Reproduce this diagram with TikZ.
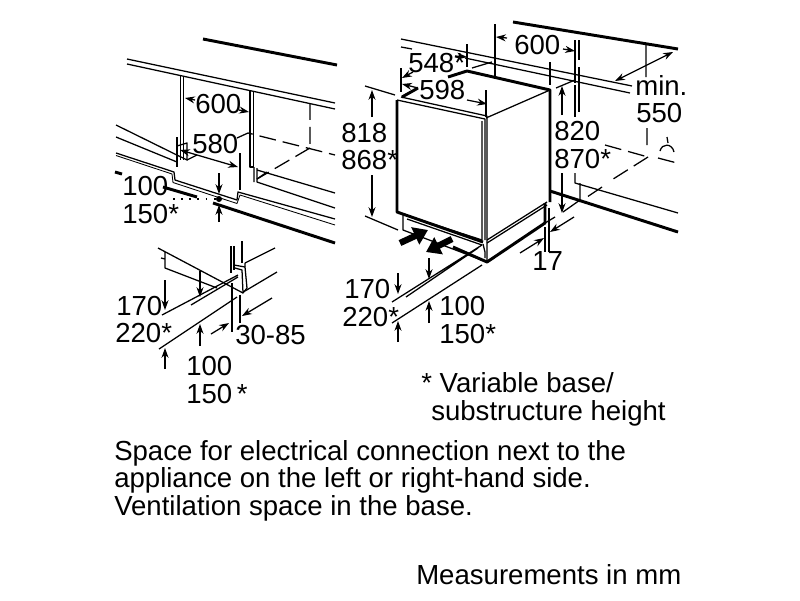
\documentclass[tikz,border=0pt]{standalone}
\usepackage{fontspec}
\setmainfont{Liberation Sans}
\usetikzlibrary{arrows.meta}

\begin{document}
\begin{tikzpicture}[x=0.025cm,y=-0.025cm,
	line join=round,
	thin line/.style={line width=0.9pt},
	fine line/.style={line width=0.6pt},
	thick line/.style={line width=2.1pt},
	dash line/.style={line width=0.9pt,dash pattern=on 12pt off 5pt},
	dim arrow/.style={line width=0.9pt,-{Stealth[length=7pt,width=5pt]}},
	both arrow/.style={line width=0.9pt,{Stealth[length=7pt,width=5pt]}-{Stealth[length=7pt,width=5pt]}},
	air arrow/.style={line width=4.5pt,-{Triangle[length=10pt,width=13pt]}},
	dim text/.style={anchor=base west,inner sep=0pt,font=\fontsize{19.6}{23}\selectfont}]
	
	\useasboundingbox (0,0) rectangle (800,600);
	
	% left niche
	\draw[thick line] (203,39) -- (337,65);
	\draw[thin line] (127,59) -- (335,103) (127,64) -- (335,109);
	\draw[thin line] (180.5,76) -- (180.5,160) (183.5,77) -- (183.5,160);
	\draw[thin line] (250,90) -- (250,167) -- (253.5,167) -- (253.5,91);
	\draw[thin line] (116,125) -- (187,160) -- (187,143) -- (177,146) (116,137) -- (177,162);
	\draw[thin line] (254,167) -- (254,182) (257,168) -- (257,182) -- (335,208) (257,170) -- (335,193);
	\draw[thin line] (257,179) -- (267,172) (187,160) -- (197,155);
	\draw[thin line] (116,153) -- (174,172) -- (175,180) -- (237,200) -- (238,192) -- (335,219);
	\draw[fine line] (116,155.5) -- (172,174) -- (173,182.5) -- (237,203.5) -- (240,195) -- (335,225);
	\draw[dash line] (310,103) -- (310,148) (237,138) -- (248,133) -- (335,155) (310,148) -- (257,179);
	\draw[thick line] (115,172) -- (122,174) (163,187) -- (197,197) (213,203) -- (335,243);
	\draw[thin line] (177,137) -- (177,167) (240,153) -- (240,190);
	\draw[dim arrow] (195,100) -- (185,98);
	\draw[dim arrow] (239,110) -- (249,112);
	\draw[both arrow] (180,150) -- (238,167);
	\draw[dim arrow] (219,173) -- (219,194);
	\draw[dim arrow] (219,222) -- (219,205);
	\draw[line width=1.2pt,dash pattern=on 1.3pt off 4.5pt] (173,199) -- (217,199);
	\fill (219,199) circle (3);
	\node[dim text] (width a) at (195,113) {600};
	\node[dim text] (depth a) at (192,153) {580};
	\node[dim text] (base a) at (122,195) {100};
	\node[dim text] (base b) at (122,223) {150*};
	
	% detail below
	\draw[thin line] (158,248) -- (243,293) (165,252) -- (165,268) -- (217,288) (161,258) -- (165,259);
	\draw[thin line] (231,246) -- (231,273) (234,246) -- (234,270) (242,241) -- (242,263);
	\draw[thin line] (245,263) -- (275,248) (245,291) -- (277,272);
	\draw[thin line] (234,265) -- (245,267) -- (247,288) -- (243,293) -- (242,270) -- (235,268);
	\draw[thin line] (245,263) -- (245,267) (162,315) -- (238,275) (191,305) -- (238,277) (159,349) -- (237,297);
	\draw[thin line] (232,283) -- (232,332) (240,295) -- (240,323);
	\draw[dim arrow] (165,280) -- (165,310);
	\draw[dim arrow] (200,271) -- (200,297);
	\draw[dim arrow] (200,346) -- (200,324);
	\draw[dim arrow] (165,369) -- (165,348);
	\draw[dim arrow] (211,334) -- (229,323);
	\draw[dim arrow] (272,298) -- (242,316);
	\node[dim text] (plinth a) at (116,315) {170};
	\node[dim text] (plinth b) at (115,342) {220*};
	\node[dim text] (range) at (235,344) {30-85};
	\node[dim text] (vent a) at (186,375) {100};
	\node[dim text] (vent b) at (186,403) {150\,*};
	
	% appliance
	\draw[thick line] (513,22) -- (678,49);
	\draw[thin line] (401,39) -- (632,86) (401,47) -- (412,49) (465,58) -- (630,93);
	\draw[thick line] (448,77) -- (467,71) -- (550,90) -- (550,202) (402,97) -- (418,88);
	\draw[thin line] (472,68) -- (492,62) (486,118) -- (550,90);
	\draw[thick line] (397,100) -- (397,212) -- (483,242);
	\draw[thin line] (397,100) -- (485,119) -- (485,240) (401,97) -- (487,116) -- (487,237) (482,121) -- (482,240);
	\draw[thin line] (402,214) -- (482,240) (403,215) -- (403,230) -- (487,262) (407,219) -- (482,245);
	\draw[thick line] (453,247) -- (487,262) -- (545,223) -- (545,203);
	\draw[thin line] (487,237) -- (487,262) (483,244) -- (485,252) -- (485,258);
	\draw[thin line] (487,240) -- (547,202) (487,243) -- (547,205);
	\draw[thin line] (392,302) -- (482,245) (406,297) -- (478,248) (392,323) -- (482,265);
	\draw[air arrow] (400,243) -- (428,230);
	\draw[air arrow] (452,239) -- (426,252);
	
	% niche behind appliance
	\draw[thick line] (550,191) -- (678,232);
	\draw[thin line] (575,173) -- (575,183) -- (678,213) (580,183) -- (580,202);
	\draw[dash line] (605,145) -- (648,157) (658,158) -- (677,163) (648,157) -- (610,181) (602,187) -- (587,197);
	\draw[thin line] (545,223) -- (555,217) (563,212) -- (580,200);
	\draw[thin line] (667,137) -- (668,143) (660,151) .. controls (662,143) and (672,143) .. (674,152);
	\draw[thin line] (495,24) -- (495,78) (467,44) -- (467,67) (550,62) -- (550,85);
	\draw[thin line] (575,40) -- (575,83) (579,40) -- (579,60) (579,67) -- (579,112) (575,85) -- (575,117);
	\draw[thin line] (556,88) -- (575,80) (646,45) -- (646,77) (647,128) -- (647,145);
	\draw[thin line] (401,68) -- (401,92) (486,90) -- (486,117);
	\draw[thin line] (365,86) -- (395,95) (365,216) -- (398,230);
	\draw[thin line] (545,227) -- (545,252) (549,208) -- (549,252);
	\draw[dim arrow] (507,38) -- (496,37);
	\draw[dim arrow] (563,49) -- (575,51);
	\draw[both arrow] (615,81) -- (673,52);
	\draw[dim arrow] (562,115) -- (562,86);
	\draw[dim arrow] (562,173) -- (562,213);
	\draw[dim arrow] (372,117) -- (372,90);
	\draw[dim arrow] (372,175) -- (372,217);
	\draw[dim arrow] (413,72) -- (402,78);
	\draw[dim arrow] (455,56) -- (467,57);
	\draw[dim arrow] (418,88) -- (402,84);
	\draw[dim arrow] (467,100) -- (487,104);
	\draw[dim arrow] (429,258) -- (429,279);
	\draw[dim arrow] (398,273) -- (398,294);
	\draw[dim arrow] (429,323) -- (429,301);
	\draw[dim arrow] (398,342) -- (398,321);
	\draw[dim arrow] (520,253) -- (544,238);
	\draw[dim arrow] (574,217) -- (550,232);
	\node[dim text] (width b) at (514,54) {600};
	\node[dim text] (depth b) at (408,72) {548*};
	\node[dim text] (width c) at (419,99) {598};
	\node[dim text] (height a) at (341,142) {818};
	\node[dim text] (height b) at (341,169) {868*};
	\node[dim text] (height c) at (554,140) {820};
	\node[dim text] (height d) at (554,168) {870*};
	\node[dim text] (min a) at (635,95) {min.};
	\node[dim text] (min b) at (636,122) {550};
	\node[dim text] (gap) at (532,270) {17};
	\node[dim text] (plinth c) at (344,298) {170};
	\node[dim text] (plinth d) at (342,326) {220*};
	\node[dim text] (vent c) at (439,315) {100};
	\node[dim text] (vent d) at (439,343) {150*};
	
	% notes
	\node[dim text] (note a) at (421,392) {* Variable base/};
	\node[dim text] (note b) at (431,420) {substructure height};
	\node[dim text] (space a) at (114,460) {Space for electrical connection next to the};
	\node[dim text] (space b) at (114,487) {appliance on the left or right-hand side.};
	\node[dim text] (space c) at (114,515) {Ventilation space in the base.};
	\node[dim text] (units) at (416,584) {Measurements in mm};
\end{tikzpicture}
\end{document}
